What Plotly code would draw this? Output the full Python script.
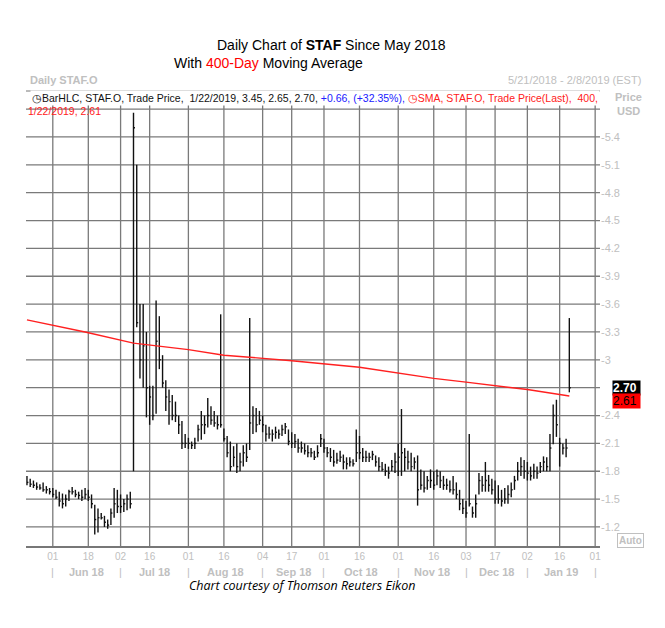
import pandas as pd
import plotly.graph_objects as go

holidays = ["2018-05-28", "2018-07-04", "2018-09-03", "2018-11-22", "2018-12-05",
            "2018-12-25", "2019-01-01", "2019-01-21", "2019-02-18"]
days = [d for d in pd.bdate_range("2018-05-21", "2019-02-08") if d.strftime("%Y-%m-%d") not in holidays]
pos = {d.strftime("%Y-%m-%d"): i for i, d in enumerate(days)}

highs = [1.75,1.72,1.70,1.68,1.66,1.68,1.64,1.62,
 1.62,1.60,1.58,1.56,1.55,1.60,1.63,1.60,1.58,1.60,1.62,
 1.60,1.55,1.44,1.40,1.35,1.32,1.28,1.40,1.62,1.60,
 1.55,1.50,1.55,1.58,
 5.66,5.10,3.60,3.60,3.30,2.72,2.72,3.64,3.47,3.05,2.78,2.68,2.62,2.55,2.40,2.34,2.20,2.16,2.12,2.16,
 2.30,2.45,2.40,2.59,2.50,2.45,2.40,3.49,2.26,2.18,2.12,2.07,2.10,2.00,2.08,2.10,
 3.45,2.50,2.48,2.45,2.40,2.30,2.28,2.25,2.28,2.25,2.30,2.32,2.25,2.22,2.20,2.15,2.12,2.10,2.08,2.05,2.02,2.08,
 2.20,2.15,2.06,2.05,2.03,2.00,2.02,1.98,1.95,1.95,1.93,2.25,2.18,2.05,2.02,2.00,2.02,1.97,1.95,1.90,1.88,1.85,
 1.92,2.00,2.10,2.47,2.05,2.02,2.00,1.95,1.97,1.82,1.80,1.75,1.82,1.80,1.82,1.80,1.75,1.72,1.70,1.75,1.68,1.60,
 1.50,1.48,2.20,1.42,1.55,1.78,1.75,1.90,1.76,1.72,1.70,1.65,1.60,1.62,1.65,1.68,1.75,1.90,1.95,1.92,1.90,1.85,
 1.88,1.85,1.90,1.96,1.95,2.20,2.52,2.57,2.16,2.10,2.15,3.45]
lows = [1.65,1.63,1.62,1.60,1.60,1.58,1.56,1.55,
 1.52,1.50,1.42,1.40,1.42,1.48,1.55,1.52,1.50,1.48,1.50,
 1.48,1.40,1.12,1.14,1.28,1.20,1.18,1.22,1.30,1.35,
 1.35,1.36,1.38,1.40,
 1.80,3.35,2.80,2.70,2.38,2.30,2.35,2.42,2.90,2.70,2.45,2.30,2.35,2.33,2.20,2.04,2.05,2.04,2.04,2.04,
 2.12,2.14,2.20,2.27,2.30,2.28,2.25,2.27,2.12,1.95,1.80,1.85,1.78,1.80,1.85,1.90,
 2.03,2.20,2.22,2.30,2.22,2.12,2.15,2.12,2.15,2.15,2.18,2.20,2.08,2.05,2.05,2.00,2.00,1.98,1.95,1.95,1.92,1.95,
 2.06,2.00,1.95,1.90,1.85,1.88,1.90,1.82,1.82,1.85,1.85,1.90,1.93,1.90,1.90,1.90,1.92,1.85,1.80,1.80,1.75,1.72,
 1.80,1.78,1.75,1.75,1.80,1.82,1.80,1.82,1.43,1.60,1.57,1.60,1.62,1.60,1.65,1.62,1.60,1.60,1.57,1.55,1.50,1.38,
 1.34,1.30,1.42,1.30,1.30,1.55,1.58,1.58,1.58,1.55,1.45,1.45,1.42,1.45,1.45,1.52,1.60,1.70,1.75,1.72,1.70,1.70,
 1.72,1.72,1.78,1.80,1.80,1.80,2.09,2.17,1.85,1.98,1.95,2.65]
closes = [1.68,1.66,1.65,1.63,1.62,1.60,1.60,1.58,
 1.55,1.52,1.48,1.45,1.50,1.58,1.58,1.55,1.54,1.52,1.55,
 1.52,1.45,1.28,1.30,1.30,1.25,1.22,1.35,1.45,1.42,
 1.42,1.45,1.50,1.45,
 5.50,3.40,3.00,3.15,2.70,2.60,2.40,3.20,3.00,2.75,2.60,2.55,2.40,2.40,2.30,2.10,2.10,2.10,2.08,2.10,
 2.25,2.30,2.30,2.40,2.35,2.32,2.30,2.30,2.15,2.00,1.85,1.95,1.85,1.90,2.00,1.95,
 2.32,2.40,2.30,2.35,2.30,2.20,2.20,2.20,2.22,2.20,2.25,2.28,2.12,2.10,2.12,2.05,2.05,2.02,2.00,2.00,1.95,2.00,
 2.15,2.05,2.00,1.95,1.90,1.92,1.95,1.90,1.88,1.90,1.88,2.00,2.00,1.95,1.95,1.95,1.98,1.90,1.85,1.82,1.80,1.78,
 1.85,1.90,1.95,2.00,1.95,1.90,1.85,1.90,1.60,1.65,1.62,1.70,1.70,1.65,1.75,1.70,1.65,1.65,1.60,1.60,1.55,1.45,
 1.40,1.35,1.45,1.35,1.45,1.70,1.65,1.70,1.65,1.60,1.50,1.50,1.48,1.50,1.55,1.60,1.70,1.80,1.85,1.80,1.78,1.75,
 1.80,1.78,1.85,1.90,1.85,2.05,2.40,2.30,2.10,2.05,2.05,2.70]

sma_dates = ["2018-05-21","2018-06-15","2018-07-09","2018-08-01","2018-08-16","2018-09-17",
             "2018-10-16","2018-11-01","2018-11-16","2018-12-03","2018-12-17","2019-01-02","2019-01-22"]
sma_vals = [3.43,3.30,3.18,3.11,3.05,2.99,2.92,2.86,2.80,2.76,2.72,2.68,2.61]

tick_dates = ["2018-06-01","2018-06-18","2018-07-02","2018-07-16","2018-08-01","2018-08-16","2018-09-04",
              "2018-09-17","2018-10-01","2018-10-16","2018-11-01","2018-11-16","2018-12-03","2018-12-17",
              "2019-01-02","2019-01-16","2019-02-01"]
tick_text = ["01","18","02","16","01","16","04","17","01","16","01","16","03","17","02","16","01"]
month_labels = ["Jun 18","Jul 18","Aug 18","Sep 18","Oct 18","Nov 18","Dec 18","Jan 19"]
y_ticks = [1.2,1.5,1.8,2.1,2.4,2.7,3.0,3.3,3.6,3.9,4.2,4.5,4.8,5.1,5.4,5.7]
y_text = ["-1.2","-1.5","-1.8","-2.1","-2.4","","-3","-3.3","-3.6","-3.9","-4.2","-4.5","-4.8","-5.1","-5.4",""]

bx, by = [], []
for i, (h, l, c) in enumerate(zip(highs, lows, closes)):
    bx += [i, i, None, i, i + 0.45, None]
    by += [l, h, None, c, c, None]

W, H = 665, 628
L, R, T, B = 18, 73, 83, 90
OFF = 8
XR = [-0.3, 177.5]
YR = [0.995, 5.895]
gridc = "#7a7a7a"
grey = "#c0c0c0"

fig = go.Figure()
tickpos = [pos[d] for d in tick_dates]
for t in tickpos:
    fig.add_shape(type="line", xref="x", yref="paper", x0=t, x1=t, y0=0, y1=1,
                  line=dict(color=gridc, width=1.3), layer="below")
for v in y_ticks:
    fig.add_shape(type="line", xref="paper", yref="y", x0=0, x1=1, y0=v, y1=v,
                  line=dict(color=gridc, width=1.3), layer="below")
fig.add_trace(go.Scatter(x=bx, y=by, mode="lines", line=dict(color="#111", width=1.4),
                         hoverinfo="skip", showlegend=False))
fig.add_trace(go.Scatter(x=[pos[d] for d in sma_dates], y=sma_vals, mode="lines",
                         line=dict(color="#ff2020", width=1.4), showlegend=False))

fig.update_layout(
    width=W, height=H, margin=dict(l=L, r=R, t=T, b=B),
    paper_bgcolor="white", plot_bgcolor="white",
    font=dict(family="Liberation Sans, Arial", size=11, color="#111"),
    xaxis=dict(range=XR, tickvals=tickpos, ticktext=tick_text, showgrid=False,
               tickfont=dict(color=grey, size=10),
               showline=True, linecolor="#777", linewidth=1.5, ticks="", zeroline=False),
    yaxis=dict(range=YR, side="right", tickvals=y_ticks, ticktext=y_text,
               showgrid=False, tickfont=dict(color=grey, size=11),
               showline=False, ticks="", zeroline=False),
)
fig.add_shape(type="line", xref="paper", yref="paper", x0=0, x1=1, y0=1, y1=1,
              line=dict(color="#777", width=1))

def px(x): return (x - OFF - L) / (W - L - R)
def py(y): return (H - B - (y - OFF)) / (H - T - B)

def A(x, y, text, xanchor="center", **kw):
    fig.add_annotation(xref="paper", yref="paper", x=px(x), y=py(y), text=text, showarrow=False,
                       xanchor=xanchor, yanchor="middle", **kw)

A(332, 45, "Daily Chart of <b>STAF</b> Since May 2018", font=dict(size=14, color="#000"))
A(268, 63, "With <span style='color:#ff0000'>400-Day</span> Moving Average", font=dict(size=14, color="#000"))
A(28, 80, "<b>Daily STAF.O</b>", xanchor="left", font=dict(size=11, color=grey))
A(643, 80, "5/21/2018 - 2/8/2019 (EST)", xanchor="right", font=dict(size=11, color=grey))
A(30, 98, "◷BarHLC, STAF.O, Trade Price,  1/22/2019, 3.45, 2.65, 2.70, "
  "<span style='color:#2020ff'>+0.66, (+32.35%),</span> "
  "<span style='color:#ff2020'>◷SMA, STAF.O, Trade Price(Last),  400,</span>",
  xanchor="left", font=dict(size=10.5, color="#111"), bgcolor="white")
A(26, 111, "1/22/2019, 2.61", xanchor="left", font=dict(size=10.5, color="#ff2020"))
A(628, 97, "<b>Price</b>", font=dict(size=11, color=grey))
A(628, 111, "<b>USD</b>", font=dict(size=11, color=grey))
A(630, 540, "<b>Auto</b>", font=dict(size=10, color=grey), bordercolor=grey, borderwidth=1, borderpad=1)
A(612, 388, "<b>2.70 </b>", xanchor="left", font=dict(size=12, color="white"), bgcolor="#000", borderpad=0)
A(612, 401, "2.61 ", xanchor="left", font=dict(size=12, color="#000"), bgcolor="#ff0000", borderpad=0)
A(302, 585, "<i>Chart courtesy of Thomson Reuters Eikon</i>",
  font=dict(family="Open Sans", size=12.5, color="#000"))

month_starts = [tickpos[i] for i in (0, 2, 4, 6, 8, 10, 12, 14, 16)]
for k, lab in enumerate(month_labels):
    mid = (month_starts[k] + month_starts[k + 1]) / 2
    fig.add_annotation(xref="x", yref="paper", x=mid, y=py(572), yanchor="middle", text=f"<b>{lab}</b>",
                       showarrow=False, font=dict(size=11, color=grey))
for m in month_starts:
    fig.add_annotation(xref="x", yref="paper", x=m, y=py(572), yanchor="middle", text="|", showarrow=False,
                       font=dict(size=11, color=grey))

fig.write_html("out.html")
